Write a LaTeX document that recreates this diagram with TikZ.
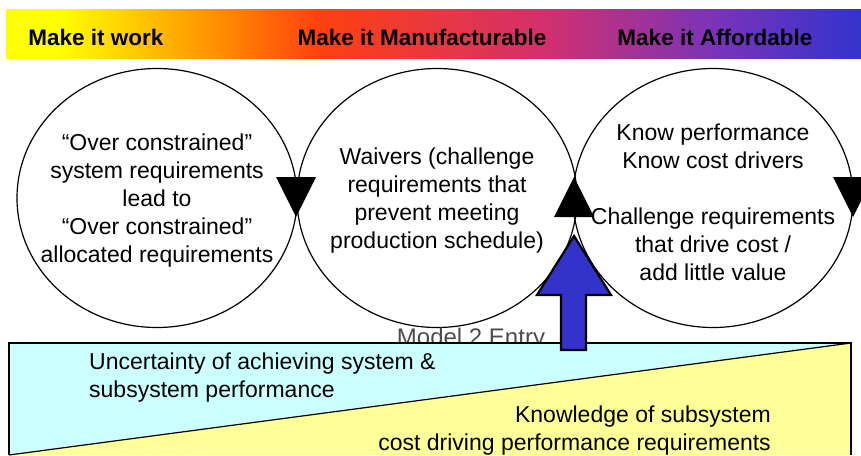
\documentclass[tikz,border=0pt]{standalone}
\usepackage{fontspec}
\setmainfont{Liberation Sans}
\usetikzlibrary{shapes.geometric}
\definecolor{barYellow}{HTML}{FFFF00}
\definecolor{barOrange}{HTML}{FF8C00}
\definecolor{barRed}{HTML}{FF4010}
\definecolor{barPink}{HTML}{D03070}
\definecolor{barPurple}{HTML}{7733BB}
\definecolor{barBlue}{HTML}{3333CC}
\definecolor{entryBlue}{HTML}{3333CC}
\definecolor{bandCyan}{HTML}{CCFFFF}
\definecolor{bandYellow}{HTML}{FFFF99}
\tikzstyle{phase label}=[font=\fontsize{22.5}{26}\selectfont\bfseries, inner sep=0pt, anchor=base]
\tikzstyle{loop circle}=[draw, ellipse, line width=1.2pt, minimum width=280pt, minimum height=259pt, inner sep=0pt]
\tikzstyle{loop text}=[align=center, inner sep=0pt, font=\fontsize{23}{28}\selectfont]
\tikzstyle{band text}=[inner sep=0pt, font=\fontsize{23}{28}\selectfont]

\begin{document}
\begin{tikzpicture}[x=1pt, y=-1pt]
  \useasboundingbox (0,0) rectangle (861,455);
  \foreach \xa/\xb/\ca/\cb in {7/60/barYellow/barYellow, 60/220/barYellow/barOrange,
      220/320/barOrange/barRed, 320/550/barRed/barPink, 550/720/barPink/barPurple,
      720/861/barPurple/barBlue}
    \shade[left color=\ca, right color=\cb] (\xa-0.5,9) rectangle (\xb+0.5,58);
  \node[phase label] (work) at (96,45) {Make it work};
  \node[phase label] (manufacture) at (422,45) {Make it Manufacturable};
  \node[phase label] (afford) at (715,45) {Make it Affordable};

  \node[loop circle] (loopA) at (157,198) {};
  \node[loop circle] (loopB) at (437,198) {};
  \node[loop circle] (loopC) at (713,198) {};
  \node[loop text] (textA) at ([yshift=-3pt]loopA) {“Over constrained”\\system requirements\\lead to\\“Over constrained”\\allocated requirements};
  \node[loop text] (textB) at ([yshift=-3pt]loopB) {Waivers (challenge\\requirements that\\prevent meeting\\production schedule)};
  \node[loop text] (textC) at ([yshift=-4pt]loopC) {Know performance\\Know cost drivers\\[28pt]Challenge requirements\\that drive cost /\\add little value};
  \foreach \x/\s in {296/1, 574/-1, 853/1}
    \fill (\x-20,197-20*\s) -- (\x+20,197-20*\s) -- (\x,197+20*\s) -- cycle;

  \node[band text, anchor=base, text=black!70] (entry) at (471,345) {\fontsize{24}{28}\selectfont Model 2 Entry};
  \fill[bandCyan] (9,343) -- (851,343) -- (9,455) -- cycle;
  \fill[bandYellow] (851,343) -- (851,455) -- (9,455) -- cycle;
  \draw[line width=1.2pt] (9,455) -- (851,343);
  \draw[line width=1.2pt] (9,455) -- (9,343) -- (851,343) -- (851,455);
  \node[band text, anchor=west, align=left] (uncertain) at (89,378) {Uncertainty of achieving system \&\\subsystem performance};
  \node[band text, anchor=east, align=right] (knowledge) at (771,431) {Knowledge of subsystem\\cost driving performance requirements};

  \filldraw[fill=entryBlue, line width=2.2pt, line join=miter]
    (561,350) -- (561,295) -- (537,295) -- (574,236) -- (611,295) -- (586,295) -- (586,350) -- cycle;
\end{tikzpicture}
\end{document}
